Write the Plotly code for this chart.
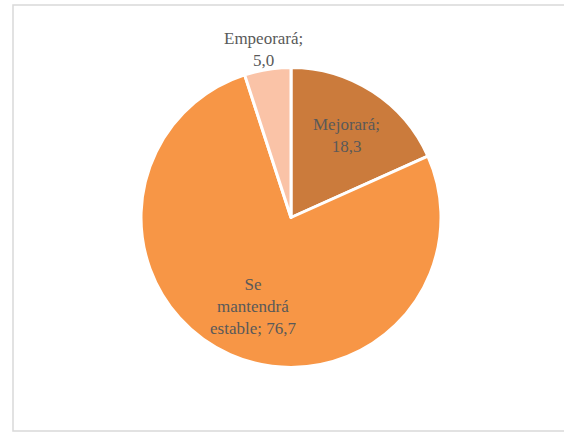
import math
import plotly.graph_objects as go

# Expectativa de la situación: categorías y porcentajes
categorias = ["Mejorará", "Se mantendrá estable", "Empeorará"]
valores = [18.3, 76.7, 5.0]
etiquetas = ["Mejorará;<br>{v}", "Se<br>mantendrá<br>estable; {v}", "Empeorará;<br>{v}"]
# radial distance of each label, as a fraction of the pie radius
radio_etiqueta = [0.68, 0.62, 1.16]
colores = ["#CB7B3C", "#F79646", "#FAC3A7"]

W, H = 564, 435
# pie area in pixels (square)
px0, px1 = 141, 441
py0, py1 = 67, 368

fig = go.Figure(
    go.Pie(
        labels=categorias,
        values=valores,
        sort=False,
        direction="clockwise",
        rotation=0,
        textinfo="none",
        marker=dict(colors=colores, line=dict(color="white", width=3)),
        showlegend=False,
        hoverinfo="label+value",
    )
)

pw, ph = px1 - px0, py1 - py0


def fx(x):
    return (x - px0) / pw


def fy(y):
    return (py1 - y) / ph


# data labels placed on each slice's bisector
total = sum(valores)
acum = 0.0
anotaciones = []
for v, plantilla, rf in zip(valores, etiquetas, radio_etiqueta):
    medio = (acum + v / 2) / total * 2 * math.pi
    acum += v
    x = 0.5 + 0.5 * rf * math.sin(medio)
    y = 0.5 + 0.5 * rf * math.cos(medio)
    texto = plantilla.format(v=f"{v:.1f}".replace(".", ","))
    anotaciones.append(
        dict(
            x=x, y=y, xref="paper", yref="paper",
            text=texto, showarrow=False, yshift=-4,
            xanchor="center", yanchor="middle", align="center",
            font=dict(family="Liberation Serif", size=17, color="#595959"),
        )
    )

fig.update_layout(
    width=W,
    height=H,
    margin=dict(l=px0, r=W - px1, t=py0, b=H - py1, pad=0),
    paper_bgcolor="white",
    plot_bgcolor="white",
    annotations=anotaciones,
    shapes=[
        dict(
            type="rect",
            xref="paper",
            yref="paper",
            x0=fx(13),
            x1=fx(580),
            y0=fy(431),
            y1=fy(5),
            line=dict(color="#D9D9D9", width=1.5),
            fillcolor="rgba(0,0,0,0)",
        )
    ],
)

fig.write_html("out.html")
